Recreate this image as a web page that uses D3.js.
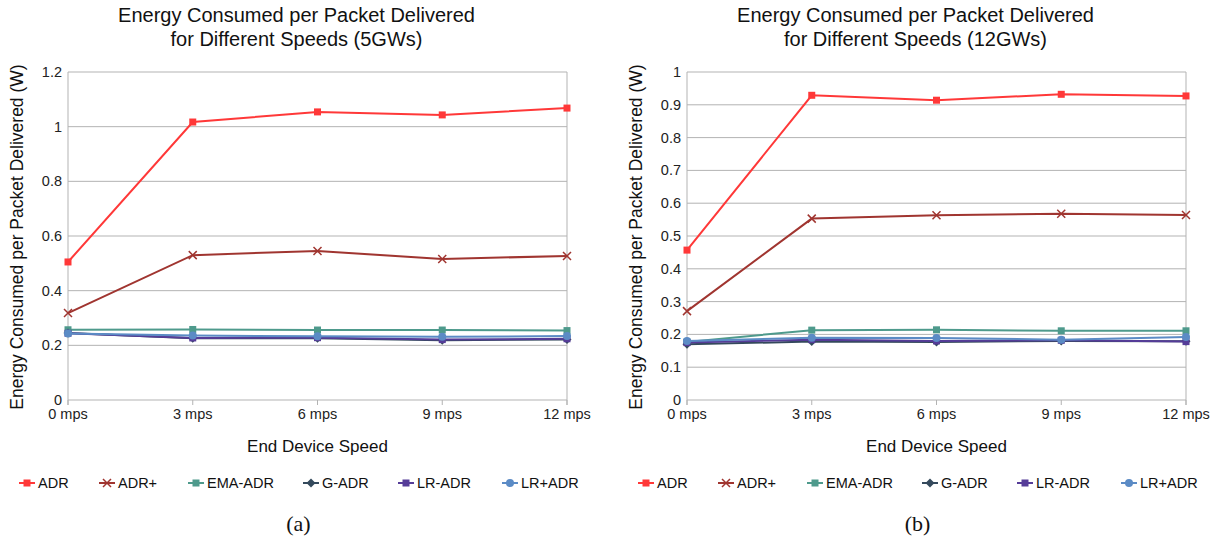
<!DOCTYPE html>
<html>
<head>
<meta charset="utf-8">
<script src="https://cdn.jsdelivr.net/npm/d3@7"></script>
<style>
  body { margin: 0; background: #fff; }
  svg { font-family: "Liberation Sans", Arial, sans-serif; }
</style>
</head>
<body>
<svg width="1223" height="541"></svg>
<script>
// categories and series names
const speeds = ['0 mps', '3 mps', '6 mps', '9 mps', '12 mps']
const seriesNames = ['ADR', 'ADR+', 'EMA-ADR', 'G-ADR', 'LR-ADR', 'LR+ADR']

// chart (a), 5 gateways
const adr5 = [0.505, 1.017, 1.054, 1.043, 1.068]
const adrPlus5 = [0.318, 0.530, 0.545, 0.516, 0.527]
const ema5 = [0.257, 0.258, 0.256, 0.256, 0.254]
const gAdr5 = [0.245, 0.226, 0.226, 0.219, 0.221]
const lrAdr5 = [0.244, 0.227, 0.228, 0.221, 0.224]
const lrPlus5 = [0.243, 0.236, 0.233, 0.231, 0.234]

// chart (b), 12 gateways
const adr12 = [0.457, 0.929, 0.914, 0.932, 0.927]
const adrPlus12 = [0.271, 0.553, 0.563, 0.568, 0.564]
const ema12 = [0.177, 0.213, 0.214, 0.211, 0.211]
const gAdr12 = [0.170, 0.178, 0.177, 0.180, 0.179]
const lrAdr12 = [0.175, 0.184, 0.180, 0.182, 0.178]
const lrPlus12 = [0.180, 0.190, 0.189, 0.184, 0.192]

const ticks5 = [0, 0.2, 0.4, 0.6, 0.8, 1, 1.2]
const ticks12 = [0, 0.1, 0.2, 0.3, 0.4, 0.5, 0.6, 0.7, 0.8, 0.9, 1]

const colors = ['#ff3838', '#a03530', '#4e9a8c', '#34495c', '#553c98', '#5b8bc5']
const shapes = ['square', 'cross', 'square', 'diamond', 'square', 'circle']

const svg = d3.select('svg')

function marker(g, shape, x, y, color) {
  if (shape === 'square') {
    g.append('rect').attr('x', x - 3.5).attr('y', y - 3.5)
      .attr('width', 7).attr('height', 7).attr('fill', color)
  } else if (shape === 'diamond') {
    g.append('path').attr('d', `M${x},${y - 4.5}L${x + 4.5},${y}L${x},${y + 4.5}L${x - 4.5},${y}Z`)
      .attr('fill', color)
  } else if (shape === 'circle') {
    g.append('circle').attr('cx', x).attr('cy', y).attr('r', 4).attr('fill', color)
  } else {
    g.append('path').attr('d', `M${x - 4},${y - 4}L${x + 4},${y + 4}M${x - 4},${y + 4}L${x + 4},${y - 4}`)
      .attr('stroke', color).attr('stroke-width', 1.5)
  }
}

function drawChart(opts) {
  const { left, right, top, bottom, yMax, ticks, data, title, panel, legendX } = opts

  const x = d3.scalePoint().domain(speeds).range([left, right])
  const y = d3.scaleLinear().domain([0, yMax]).range([bottom, top])

  const g = svg.append('g')

  // horizontal grid lines
  g.selectAll('.grid')
    .data(ticks)
    .enter()
    .append('line')
    .attr('x1', left).attr('x2', right)
    .attr('y1', d => y(d)).attr('y2', d => y(d))
    .attr('stroke', '#b3b3b3').attr('stroke-width', 1)

  // left and right borders
  g.append('line').attr('x1', left).attr('x2', left).attr('y1', top).attr('y2', bottom + 5)
    .attr('stroke', '#b3b3b3')
  g.append('line').attr('x1', right).attr('x2', right).attr('y1', top).attr('y2', bottom + 5)
    .attr('stroke', '#b3b3b3')

  // x ticks
  g.selectAll('.xtick')
    .data(speeds)
    .enter()
    .append('line')
    .attr('x1', d => x(d)).attr('x2', d => x(d))
    .attr('y1', bottom).attr('y2', bottom + 5)
    .attr('stroke', '#b3b3b3')

  g.selectAll('.xlabel')
    .data(speeds)
    .enter()
    .append('text')
    .attr('x', d => x(d)).attr('y', bottom + 19)
    .attr('text-anchor', 'middle')
    .attr('font-size', 14.5).attr('fill', '#222')
    .text(d => d)

  g.selectAll('.ylabel')
    .data(ticks)
    .enter()
    .append('text')
    .attr('x', left - 6).attr('y', d => y(d) + 5)
    .attr('text-anchor', 'end')
    .attr('font-size', 14.5).attr('fill', '#222')
    .text(d => d3.format('~g')(d))

  // titles, a little left of the plot centre as in the original
  const cx = (left + right) / 2
  const tx = cx - 21
  g.append('text').attr('x', tx).attr('y', 22).attr('text-anchor', 'middle')
    .attr('font-size', 20).attr('fill', '#111').text('Energy Consumed per Packet Delivered')
  g.append('text').attr('x', tx).attr('y', 46).attr('text-anchor', 'middle')
    .attr('font-size', 20).attr('fill', '#111').text(title)

  g.append('text').attr('x', cx).attr('y', 452).attr('text-anchor', 'middle')
    .attr('font-size', 17).attr('fill', '#111').text('End Device Speed')

  g.append('text')
    .attr('transform', `translate(${left - 45},${(top + bottom) / 2 + 1}) rotate(-90)`)
    .attr('text-anchor', 'middle')
    .attr('font-size', 17.5).attr('fill', '#111')
    .text('Energy Consumed per Packet Delivered (W)')

  // series lines and markers, in legend order
  const line = d3.line().x((d, i) => x(speeds[i])).y(d => y(d))
  data.forEach((vals, s) => {
    g.append('path').datum(vals)
      .attr('d', line)
      .attr('fill', 'none')
      .attr('stroke', colors[s])
      .attr('stroke-width', 2)
    vals.forEach((v, i) => marker(g, shapes[s], x(speeds[i]), y(v), colors[s]))
  })

  // legend
  const legendOffsets = [0, 80, 169, 284, 379, 483]
  seriesNames.forEach((name, s) => {
    const lx = legendX + legendOffsets[s]
    const ly = 483
    g.append('line').attr('x1', lx - 19).attr('x2', lx - 3).attr('y1', ly).attr('y2', ly)
      .attr('stroke', colors[s]).attr('stroke-width', 2)
    marker(g, shapes[s], lx - 11, ly, colors[s])
    g.append('text').attr('x', lx).attr('y', ly + 5)
      .attr('font-size', 14.5).attr('fill', '#111').text(name)
  })

  g.append('text').attr('x', tx + 2).attr('y', 531).attr('text-anchor', 'middle')
    .attr('font-family', '"Liberation Serif", serif')
    .attr('font-size', 22).attr('fill', '#111').text(panel)
}

drawChart({
  left: 68, right: 567, top: 72, bottom: 400, yMax: 1.2, ticks: ticks5,
  data: [adr5, adrPlus5, ema5, gAdr5, lrAdr5, lrPlus5],
  title: 'for Different Speeds (5GWs)', panel: '(a)', legendX: 38
})

drawChart({
  left: 687, right: 1186, top: 72, bottom: 400, yMax: 1, ticks: ticks12,
  data: [adr12, adrPlus12, ema12, gAdr12, lrAdr12, lrPlus12],
  title: 'for Different Speeds (12GWs)', panel: '(b)', legendX: 657
})
</script>
</body>
</html>
